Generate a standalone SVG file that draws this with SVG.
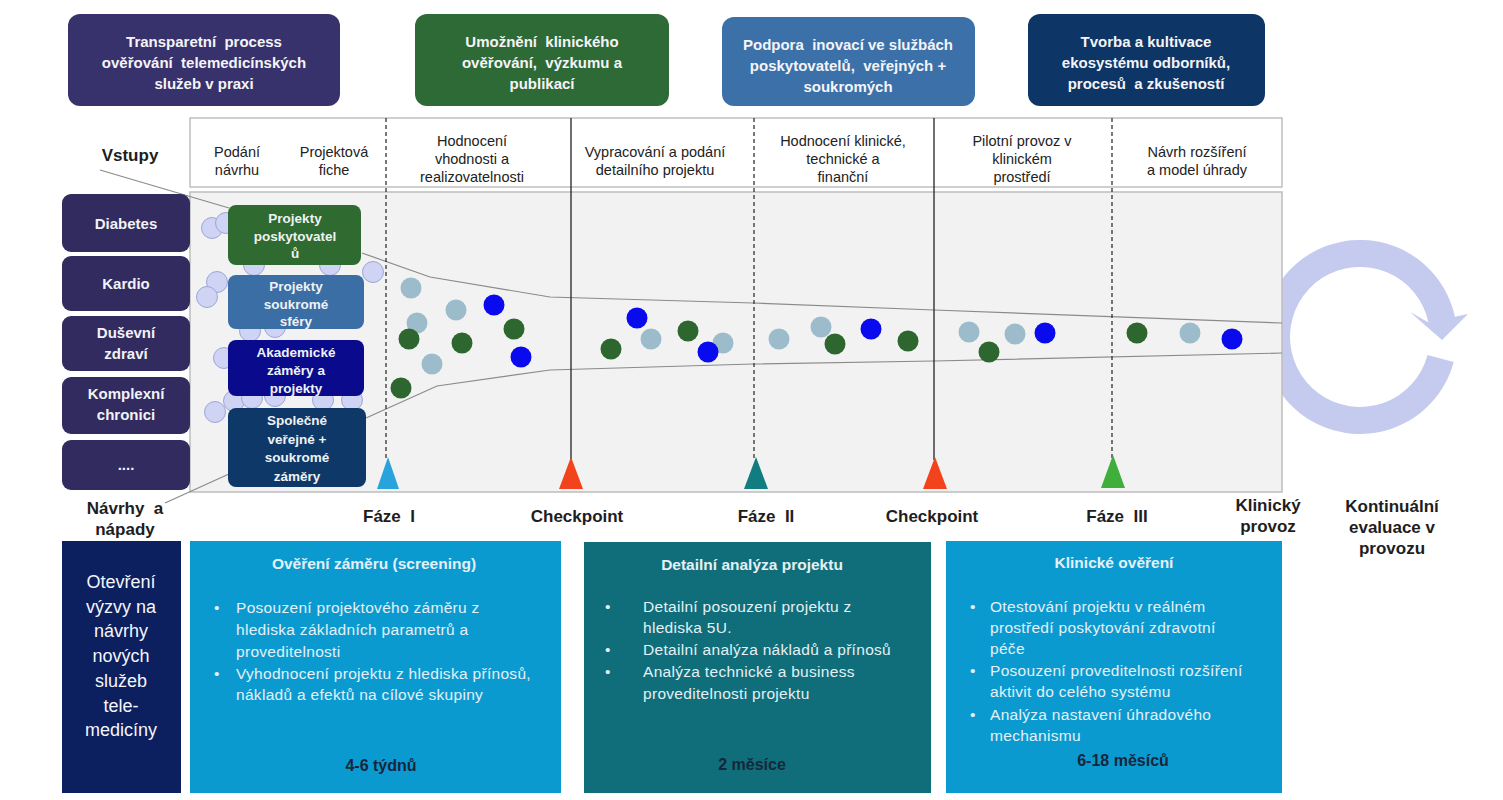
<svg xmlns="http://www.w3.org/2000/svg" width="1503" height="800" viewBox="0 0 1503 800">
<style>
.top{font-family:"Liberation Sans",Arial,sans-serif;font-size:15px;font-weight:bold;fill:#f4f4f8;text-anchor:middle;white-space:pre}
.hdr{font-family:"Liberation Sans",Arial,sans-serif;font-size:14.5px;fill:#222;text-anchor:middle}
.cat{font-family:"Liberation Sans",Arial,sans-serif;font-size:15px;font-weight:bold;fill:#f2f2f6;text-anchor:middle}
.prj{font-family:"Liberation Sans",Arial,sans-serif;font-size:13.5px;font-weight:bold;fill:#eef2f4;text-anchor:middle}
.lbl{font-family:"Liberation Sans",Arial,sans-serif;font-size:17px;font-weight:bold;fill:#1e1e1e;text-anchor:middle;white-space:pre}
.btitle{font-family:"Liberation Sans",Arial,sans-serif;font-size:15.5px;font-weight:bold;fill:#e4f0f6;text-anchor:middle}
.btxt{font-family:"Liberation Sans",Arial,sans-serif;font-size:15.5px;letter-spacing:0.3px;fill:#e4f0f6}
.dur{font-family:"Liberation Sans",Arial,sans-serif;font-size:16px;font-weight:bold;fill:#17263a;text-anchor:middle}
.open{font-family:"Liberation Sans",Arial,sans-serif;font-size:18px;fill:#f4f6fa;text-anchor:middle}
.bg{fill:#cfd3f4;stroke:#9ea6d8;stroke-width:1}
.g{fill:#2e6630}
.l{fill:#9dbccb}
.b{fill:#0a0aee}
.dash{stroke:#333;stroke-width:1.3;stroke-dasharray:4 3;fill:none}
.solid{stroke:#222;stroke-width:1.3;fill:none}
.thin{stroke:#8a8a8a;stroke-width:1.2;fill:none}
</style>

<!-- top goal boxes -->
<g id="goal1"><rect x="68" y="14" width="272" height="92" rx="12" fill="#38326c"/>
<text class="top" x="204" y="47">Transparetní  process</text><text class="top" x="204" y="68">ověřování  telemedicínských</text><text class="top" x="204" y="89">služeb v praxi</text></g>
<g id="goal2"><rect x="415" y="14" width="254" height="92" rx="12" fill="#2e6a35"/>
<text class="top" x="542" y="47">Umožnění  klinického</text><text class="top" x="542" y="68">ověřování,  výzkumu a</text><text class="top" x="542" y="89">publikací</text></g>
<g id="goal3"><rect x="722" y="17" width="253" height="89" rx="12" fill="#3b70a8"/>
<text class="top" x="848" y="50">Podpora  inovací ve službách</text><text class="top" x="848" y="71">poskytovatelů,  veřejných +</text><text class="top" x="848" y="92">soukromých</text></g>
<g id="goal4"><rect x="1028" y="14" width="237" height="92" rx="12" fill="#0d3565"/>
<text class="top" x="1146" y="47">Tvorba a kultivace</text><text class="top" x="1146" y="68">ekosystému odborníků,</text><text class="top" x="1146" y="89">procesů  a zkušeností</text></g>

<!-- header row -->
<g id="header">
<rect x="190" y="118" width="1092" height="69" fill="#fff" stroke="#b0b0b0" stroke-width="1.2"/>
<text class="hdr" x="237" y="157">Podání</text><text class="hdr" x="237" y="175">návrhu</text>
<text class="hdr" x="334" y="157">Projektová</text><text class="hdr" x="334" y="175">fiche</text>
<text class="hdr" x="472" y="146">Hodnocení</text><text class="hdr" x="472" y="164">vhodnosti a</text><text class="hdr" x="472" y="182">realizovatelnosti</text>
<text class="hdr" x="655" y="157">Vypracování a podání</text><text class="hdr" x="655" y="175">detailního projektu</text>
<text class="hdr" x="843" y="146">Hodnocení klinické,</text><text class="hdr" x="843" y="164">technické a</text><text class="hdr" x="843" y="182">finanční</text>
<text class="hdr" x="1022" y="146">Pilotní provoz v</text><text class="hdr" x="1022" y="164">klinickém</text><text class="hdr" x="1022" y="182">prostředí</text>
<text class="hdr" x="1197" y="157">Návrh rozšíření</text><text class="hdr" x="1197" y="175">a model úhrady</text>
</g>

<!-- cyclic arrow (behind main area) -->
<g id="cycle">
<path d="M1453.7 362.1 A97 97 0 1 1 1454.9 316.8 L1468 314 L1442 340 L1410 312 L1428.5 322.4 A70 70 0 1 0 1427.6 355.1 Z" fill="#c5cbef"/>
</g>

<!-- main area -->
<g id="main">
<rect x="190" y="192" width="1092" height="300" fill="#f2f2f2" stroke="#bdbdbd" stroke-width="1.5"/>
</g>

<!-- background idea bubbles -->
<g id="bubbles">
<circle class="bg" cx="212" cy="228" r="10.5"/><circle class="bg" cx="226" cy="223" r="10.5"/>
<circle class="bg" cx="254" cy="265" r="10.5"/><circle class="bg" cx="330" cy="265" r="10.5"/>
<circle class="bg" cx="217" cy="282" r="10.5"/><circle class="bg" cx="207" cy="297" r="10.5"/>
<circle class="bg" cx="373" cy="272" r="10.5"/>
<circle class="bg" cx="250" cy="331" r="10.5"/><circle class="bg" cx="275" cy="327" r="10.5"/>
<circle class="bg" cx="224" cy="358" r="10.5"/>
<circle class="bg" cx="215" cy="412" r="10.5"/><circle class="bg" cx="234" cy="401" r="10.5"/>
<circle class="bg" cx="252" cy="398" r="10.5"/><circle class="bg" cx="275" cy="396" r="10.5"/>
<circle class="bg" cx="323" cy="400" r="10.5"/><circle class="bg" cx="352" cy="400" r="10.5"/>
</g>

<!-- connectors -->
<g id="connectors">
<line class="thin" x1="100" y1="170" x2="229" y2="208"/>
<line class="thin" x1="165" y1="503" x2="229" y2="474"/>
<polyline class="thin" points="362,253 430,277 550,297 753,303 934,310 1282,323"/>
<polyline class="thin" points="366,418 437,386 550,370 753,364 934,361 1282,353"/>
<line class="dash" x1="386" y1="118" x2="386" y2="460"/>
<line class="solid" x1="571" y1="118" x2="571" y2="460"/>
<line class="dash" x1="754" y1="118" x2="754" y2="460"/>
<line class="solid" x1="934" y1="118" x2="934" y2="460"/>
<line class="dash" x1="1112" y1="118" x2="1112" y2="460"/>
</g>

<!-- milestones -->
<g id="milestones">
<polygon points="388,457 377,489 399,489" fill="#29a3dc"/>
<polygon points="571,457 559,489 583,489" fill="#f2431c"/>
<polygon points="756,457 744,489 768,489" fill="#127d80"/>
<polygon points="935,457 923,489 947,489" fill="#f2431c"/>
<polygon points="1113,455 1101,488 1125,488" fill="#3fae3a"/>
</g>

<!-- project dots in funnel -->
<g id="dots">
<circle class="l" cx="411" cy="288" r="10.5"/><circle class="l" cx="456" cy="310" r="10.5"/><circle class="b" cx="494" cy="305" r="10.5"/>
<circle class="l" cx="417" cy="323" r="10.5"/><circle class="g" cx="514" cy="329" r="10.5"/><circle class="g" cx="409" cy="339" r="10.5"/>
<circle class="g" cx="462" cy="343" r="10.5"/><circle class="b" cx="521" cy="357" r="10.5"/><circle class="l" cx="432" cy="364" r="10.5"/>
<circle class="g" cx="401" cy="388" r="10.5"/>
<circle class="g" cx="611" cy="349" r="10.5"/><circle class="b" cx="637" cy="318" r="10.5"/><circle class="l" cx="651" cy="339" r="10.5"/>
<circle class="g" cx="688" cy="331" r="10.5"/><circle class="l" cx="723" cy="343" r="10.5"/><circle class="b" cx="708" cy="352" r="10.5"/>
<circle class="l" cx="779" cy="339" r="10.5"/><circle class="l" cx="821" cy="327" r="10.5"/><circle class="g" cx="835" cy="344" r="10.5"/>
<circle class="b" cx="871" cy="329" r="10.5"/><circle class="g" cx="908" cy="341" r="10.5"/>
<circle class="l" cx="969" cy="332" r="10.5"/><circle class="g" cx="989" cy="352" r="10.5"/><circle class="l" cx="1015" cy="334" r="10.5"/>
<circle class="b" cx="1045" cy="333" r="10.5"/>
<circle class="g" cx="1137" cy="333" r="10.5"/><circle class="l" cx="1190" cy="333" r="10.5"/><circle class="b" cx="1232" cy="339" r="10.5"/>
</g>

<!-- input categories -->
<g id="cat-diabetes"><rect x="62" y="194" width="128" height="58" rx="9" fill="#312b5f"/><text class="cat" x="126" y="229">Diabetes</text></g>
<g id="cat-kardio"><rect x="62" y="256" width="128" height="55" rx="9" fill="#312b5f"/><text class="cat" x="126" y="289">Kardio</text></g>
<g id="cat-dusevni"><rect x="62" y="316" width="128" height="55" rx="9" fill="#312b5f"/><text class="cat" x="126" y="338">Duševní</text><text class="cat" x="126" y="359">zdraví</text></g>
<g id="cat-komplexni"><rect x="62" y="377" width="128" height="57" rx="9" fill="#312b5f"/><text class="cat" x="126" y="399">Komplexní</text><text class="cat" x="126" y="420">chronici</text></g>
<g id="cat-dalsi"><rect x="62" y="440" width="128" height="50" rx="9" fill="#312b5f"/><text class="cat" x="126" y="470">....</text></g>

<!-- project types -->
<g id="prj-poskytovatelu"><rect x="228" y="205" width="133" height="60" rx="8" fill="#2f6b30"/>
<text class="prj" x="295" y="223">Projekty</text><text class="prj" x="295" y="241">poskytovatel</text><text class="prj" x="295" y="258">ů</text></g>
<g id="prj-soukrome"><rect x="228" y="275" width="136" height="54" rx="8" fill="#3b6ea5"/>
<text class="prj" x="296" y="291">Projekty</text><text class="prj" x="296" y="309">soukromé</text><text class="prj" x="296" y="326">sféry</text></g>
<g id="prj-akademicke"><rect x="228" y="340" width="136" height="56" rx="8" fill="#0a0a8c"/>
<text class="prj" x="296" y="357">Akademické</text><text class="prj" x="296" y="375">záměry a</text><text class="prj" x="296" y="393">projekty</text></g>
<g id="prj-spolecne"><rect x="228" y="408" width="138" height="79" rx="8" fill="#0d3868"/>
<text class="prj" x="297" y="425">Společné</text><text class="prj" x="297" y="444">veřejné +</text><text class="prj" x="297" y="462">soukromé</text><text class="prj" x="297" y="481">záměry</text></g>

<!-- labels -->
<g id="labels">
<text class="lbl" x="130" y="161">Vstupy</text>
<text class="lbl" x="125" y="514">Návrhy  a</text><text class="lbl" x="125" y="535">nápady</text>
<text class="lbl" x="389" y="522">Fáze  I</text>
<text class="lbl" x="577" y="522">Checkpoint</text>
<text class="lbl" x="766" y="522">Fáze  II</text>
<text class="lbl" x="932" y="522">Checkpoint</text>
<text class="lbl" x="1117" y="522">Fáze  III</text>
<text class="lbl" x="1268" y="511">Klinický</text><text class="lbl" x="1268" y="532">provoz</text>
<text class="lbl" x="1392" y="512">Kontinuální</text><text class="lbl" x="1392" y="533">evaluace v</text><text class="lbl" x="1392" y="554">provozu</text>
</g>

<!-- bottom boxes -->
<g id="box-vyzva"><rect x="62" y="541" width="119" height="252" fill="#0c1f5f"/>
<text class="open" x="121" y="588">Otevření</text><text class="open" x="121" y="613">výzvy na</text><text class="open" x="121" y="637">návrhy</text><text class="open" x="121" y="662">nových</text><text class="open" x="121" y="687">služeb</text><text class="open" x="121" y="712">tele-</text><text class="open" x="121" y="736">medicíny</text></g>

<g id="box-screening"><rect x="190" y="541" width="371" height="252" fill="#0b9ad0"/>
<text class="btitle" x="374" y="569">Ověření záměru (screening)</text>
<text class="btxt" x="214" y="613">•</text><text class="btxt" x="236" y="613">Posouzení projektového záměru z</text>
<text class="btxt" x="236" y="635">hlediska základních parametrů a</text>
<text class="btxt" x="236" y="657">proveditelnosti</text>
<text class="btxt" x="214" y="679">•</text><text class="btxt" x="236" y="679">Vyhodnocení projektu z hlediska přínosů,</text>
<text class="btxt" x="236" y="700">nákladů a efektů na cílové skupiny</text>
<text class="dur" x="381" y="771">4-6 týdnů</text></g>

<g id="box-detail"><rect x="584" y="542" width="347" height="251" fill="#0f6e79"/>
<text class="btitle" x="752" y="570">Detailní analýza projektu</text>
<text class="btxt" x="605" y="612">•</text><text class="btxt" x="643" y="612">Detailní posouzení projektu z</text>
<text class="btxt" x="643" y="633">hlediska 5U.</text>
<text class="btxt" x="605" y="655">•</text><text class="btxt" x="643" y="655">Detailní analýza nákladů a přínosů</text>
<text class="btxt" x="605" y="677">•</text><text class="btxt" x="643" y="677">Analýza technické a business</text>
<text class="btxt" x="643" y="699">proveditelnosti projektu</text>
<text class="dur" x="752" y="770">2 měsíce</text></g>

<g id="box-klinicke"><rect x="946" y="541" width="336" height="252" fill="#0b9ad0"/>
<text class="btitle" x="1114" y="568">Klinické ověření</text>
<text class="btxt" x="970" y="612">•</text><text class="btxt" x="990" y="612">Otestování projektu v reálném</text>
<text class="btxt" x="990" y="633">prostředí poskytování zdravotní</text>
<text class="btxt" x="990" y="654">péče</text>
<text class="btxt" x="970" y="676">•</text><text class="btxt" x="990" y="676">Posouzení proveditelnosti rozšíření</text>
<text class="btxt" x="990" y="697">aktivit do celého systému</text>
<text class="btxt" x="970" y="720">•</text><text class="btxt" x="990" y="720">Analýza nastavení úhradového</text>
<text class="btxt" x="990" y="741">mechanismu</text>
<text class="dur" x="1123" y="766">6-18 měsíců</text></g>
</svg>
